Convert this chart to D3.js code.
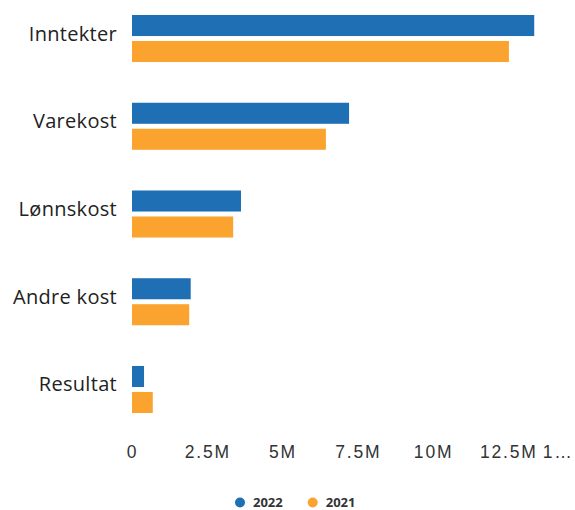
<!DOCTYPE html>
<html>
<head>
<meta charset="utf-8">
<script src="https://cdn.jsdelivr.net/npm/d3@7"></script>
<style>
  body { margin: 0; background: #fff; }
  svg { display: block; font-family: "Open Sans", "DejaVu Sans", sans-serif; }
</style>
</head>
<body>
<div id="chart"><svg></svg></div>
<script>
// chart data
var categories = ["Inntekter", "Varekost", "Lønnskost", "Andre kost", "Resultat"];
var seriesNames = ["2022", "2021"];
var values2022 = [13.36e6, 7.21e6, 3.62e6, 1.95e6, 0.40e6];
var values2021 = [12.52e6, 6.44e6, 3.36e6, 1.90e6, 0.69e6];
var tickValues = [0, 2.5e6, 5e6, 7.5e6, 10e6, 12.5e6, 15e6];
var tickLabels = ["0", "2.5M", "5M", "7.5M", "10M", "12.5M", "15M"];

var colors = { "2022": "#1f6fb4", "2021": "#fba32f" };

var width = 575, height = 510;
var svg = d3.select("#chart svg").attr("width", width).attr("height", height);

var rows = categories.map(function(c, i) {
    return { cat: c, vals: [
        { key: "2022", value: values2022[i] },
        { key: "2021", value: values2021[i] }
    ]};
});

// the plot runs past the right edge of the window, like the original
var x = d3.scaleLinear().domain([0, 15e6]).range([132, 583.6]);
var y = d3.scaleBand().domain(categories).range([15, 413]).paddingInner(0.464).paddingOuter(0);
var y1 = d3.scaleBand().domain(seriesNames).range([0, y.bandwidth()]).paddingInner(0.19);

var groups = svg.append("g").attr("class", "bars")
    .selectAll("g")
    .data(rows)
    .enter().append("g")
    .attr("transform", function(d) { return "translate(0," + y(d.cat) + ")"; });

groups.selectAll("rect")
    .data(function(d) { return d.vals; })
    .enter().append("rect")
    .attr("x", x(0))
    .attr("y", function(d) { return y1(d.key); })
    .attr("width", function(d) { return x(d.value) - x(0); })
    .attr("height", y1.bandwidth())
    .attr("fill", function(d) { return colors[d.key]; });

// category labels
svg.append("g").attr("class", "cats")
    .selectAll("text")
    .data(categories)
    .enter().append("text")
    .attr("x", 117)
    .attr("y", function(d) { return y(d) + y.bandwidth() / 2 - 5; })
    .attr("dy", "0.35em")
    .attr("text-anchor", "end")
    .style("font-size", "20px")
    .style("letter-spacing", "0.3px")
    .style("fill", "#222")
    .text(function(d) { return d; });

// x axis, labels only
var xAxis = d3.axisBottom(x)
    .tickValues(tickValues)
    .tickFormat(function(d, i) { return tickLabels[i]; })
    .tickSize(0)
    .tickPadding(0);

var axisG = svg.append("g")
    .attr("class", "x-axis")
    .attr("transform", "translate(0,446)")
    .call(xAxis);
axisG.select(".domain").remove();
axisG.selectAll("text")
    .style("font-size", "17.5px")
    .style("letter-spacing", "1.8px")
    .style("fill", "#333")
    .attr("font-family", null);

// labels that would run off the edge get cut with an ellipsis
axisG.selectAll("text").each(function() {
    var t = d3.select(this);
    var full = t.text();
    var box = this.getBBox();
    var right = x(tickValues[tickLabels.indexOf(full)]) + box.x + box.width;
    if (right > width - 2) {
        var n = full.length - 1;
        t.attr("text-anchor", "end").attr("x", width - 2 - x(tickValues[tickLabels.indexOf(full)]));
        t.text(full.slice(0, n) + "…");
        while (n > 1 && this.getComputedTextLength() > 26) {
            n--;
            t.text(full.slice(0, n) + "…");
        }
    }
});

// legend
var legend = svg.append("g").attr("class", "legend")
    .selectAll("g")
    .data(seriesNames)
    .enter().append("g")
    .attr("transform", function(d, i) { return "translate(" + (240 + i * 72.7) + ",502.5)"; });

legend.append("circle")
    .attr("r", 5)
    .attr("fill", function(d) { return colors[d]; });

legend.append("text")
    .attr("x", 13)
    .attr("dy", "0.35em")
    .style("font-size", "13px")
    .style("font-weight", "bold")
    .style("fill", "#333")
    .text(function(d) { return d; });
</script>
</body>
</html>
